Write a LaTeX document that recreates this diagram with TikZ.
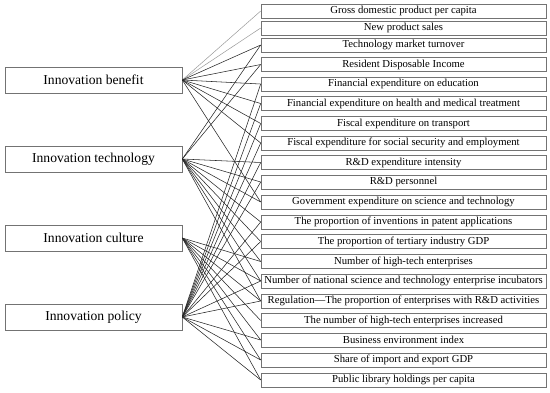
\documentclass[tikz,border=0pt]{standalone}
\usepackage{fontspec}
\setmainfont{Liberation Serif}
\begin{document}
\begin{tikzpicture}[x=1pt,y=-1pt,
  lbox/.style={draw=black!55,line width=0.6pt,minimum width=177pt,minimum height=26pt,inner sep=0pt,font=\fontsize{13.6}{14}\selectfont},
  rbox/.style={draw=black!55,line width=0.6pt,minimum width=285pt,minimum height=14pt,inner sep=0pt,font=\fontsize{10.7}{11}\selectfont},
  link/.style={line width=0.55pt,black!85},
  glink/.style={line width=0.5pt,black!40}]
\useasboundingbox (0,0) rectangle (550,392);
\node[lbox] (lb) at (93.5,80) {Innovation benefit};
\node[lbox] (lt) at (93.5,159) {Innovation technology};
\node[lbox] (lc) at (93.5,238) {Innovation culture};
\node[lbox] (lp) at (93.5,317) {Innovation policy};
\node[rbox] (r1) at (403.5,11) {Gross domestic product per capita};
\node[rbox] (r2) at (403.5,28) {New product sales};
\node[rbox] (r3) at (403.5,45) {Technology market turnover};
\node[rbox] (r4) at (403.5,64.5) {Resident Disposable Income};
\node[rbox] (r5) at (403.5,84) {Financial expenditure on education};
\node[rbox] (r6) at (403.5,103.5) {Financial expenditure on health and medical treatment};
\node[rbox] (r7) at (403.5,123.5) {Fiscal expenditure on transport};
\node[rbox] (r8) at (403.5,143) {Fiscal expenditure for social security and employment};
\node[rbox] (r9) at (403.5,162.5) {R\&D expenditure intensity};
\node[rbox] (r10) at (403.5,182) {R\&D personnel};
\node[rbox] (r11) at (403.5,202) {Government expenditure on science and technology};
\node[rbox] (r12) at (403.5,222) {The proportion of inventions in patent applications};
\node[rbox] (r13) at (403.5,241.5) {The proportion of tertiary industry GDP};
\node[rbox] (r14) at (403.5,261.5) {Number of high-tech enterprises};
\node[rbox] (r15) at (403.5,281) {Number of national science and technology enterprise incubators};
\node[rbox] (r16) at (403.5,301) {Regulation---The proportion of enterprises with R\&D activities};
\node[rbox] (r17) at (403.5,320.5) {The number of high-tech enterprises increased};
\node[rbox] (r18) at (403.5,340) {Business environment index};
\node[rbox] (r19) at (403.5,360) {Share of import and export GDP};
\node[rbox] (r20) at (403.5,380) {Public library holdings per capita};
\foreach \k in {1,2} \draw[glink] (lb.east) -- (r\k.west);
\foreach \k in {3,4,5,6,7,8,11} \draw[link] (lb.east) -- (r\k.west);
\foreach \k in {3,4,9,10,11,12,13,14,15,16} \draw[link] (lt.east) -- (r\k.west);
\foreach \k in {14,15,16,17,18,19,20} \draw[link] (lc.east) -- (r\k.west);
\foreach \k in {5,6,7,8,9,10,12,13,15,16,18,19,20} \draw[link] (lp.east) -- (r\k.west);
\end{tikzpicture}
\end{document}
